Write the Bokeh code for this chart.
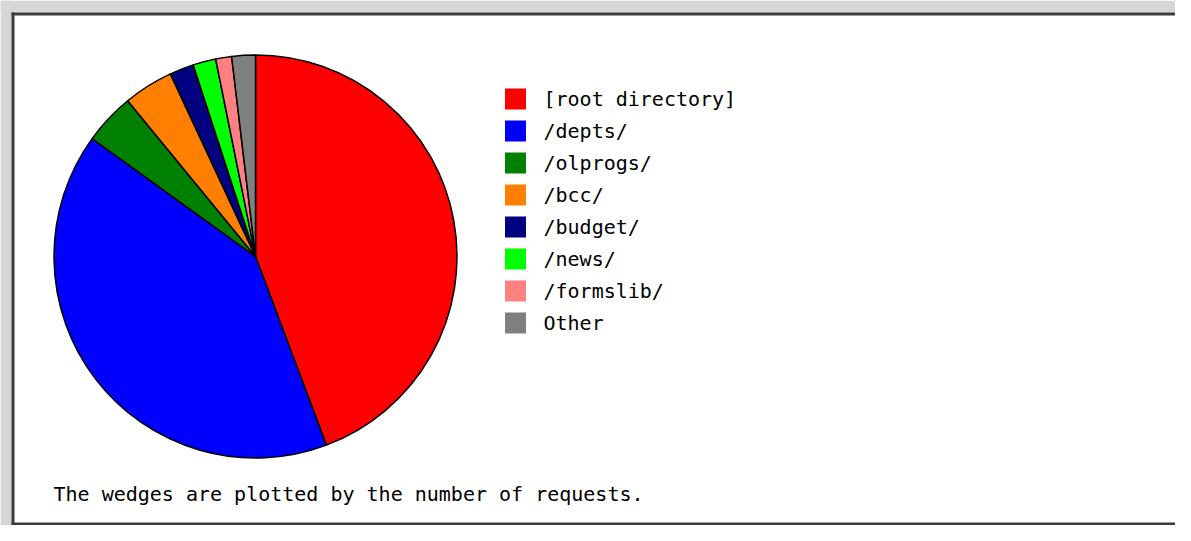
import math
from bokeh.plotting import figure
from bokeh.models import Range1d, ColumnDataSource
from bokeh.core.properties import value
from bokeh.embed import file_html
from bokeh.resources import INLINE

# ---- data ----
categories = ["[root directory]", "/depts/", "/olprogs/", "/bcc/", "/budget/",
              "/news/", "/formslib/", "Other"]
requests = [44.28, 40.67, 4.11, 4.00, 1.94, 1.83, 1.28, 1.89]
colors = ["#ff0000", "#0000ff", "#008000", "#ff8000", "#000080",
          "#00ff00", "#ff8080", "#808080"]
caption = "The wedges are plotted by the number of requests."

FONT = "DejaVu Sans Mono"

# figure shows reference-pixel region x 0..1175, y 0..525 (y stored negated)
p = figure(width=1175, height=525, output_backend="svg", toolbar_location=None,
           x_range=Range1d(0, 1175), y_range=Range1d(-525, 0),
           min_border=0, outline_line_color=None)
p.axis.visible = False
p.grid.visible = False
p.background_fill_color = "white"
p.border_fill_color = "white"

# frame decoration (bevelled border)
p.quad(left=[0], right=[1191], top=[0], bottom=[-12], fill_color="#d6d6d6", line_color=None)
p.quad(left=[0], right=[11], top=[0], bottom=[-541], fill_color="#d6d6d6", line_color=None)
p.quad(left=[11], right=[1191], top=[-12], bottom=[-15], fill_color="#3c3c3c", line_color=None)
p.quad(left=[11], right=[14], top=[-12], bottom=[-525], fill_color="#3c3c3c", line_color=None)
p.quad(left=[11], right=[1191], top=[-522], bottom=[-525], fill_color="#3c3c3c", line_color=None)

# pie
total = sum(requests)
starts, ends = [], []
cum = 0.0
for v in requests:
    starts.append(math.pi / 2 - 2 * math.pi * cum / total)
    cum += v
    ends.append(math.pi / 2 - 2 * math.pi * cum / total)
src = ColumnDataSource(dict(cat=categories, v=requests, c=colors, s=starts, e=ends,
                            x=[255] * len(requests), y=[-256] * len(requests)))
p.wedge(x="x", y="y", radius=201.5, start_angle="s", end_angle="e", direction="clock",
        fill_color="c", line_color="black", line_width=1.5, source=src)

# legend
ly = [-(98.5 + 32 * i) for i in range(len(categories))]
lsrc = ColumnDataSource(dict(cat=categories, c=colors, y=ly,
                             x=[515] * len(categories), tx=[543] * len(categories)))
p.rect(x="x", y="y", width=21, height=21, fill_color="c", line_color=None, source=lsrc)
p.text(x="tx", y="y", text="cat", text_font=value(FONT), text_font_size="20px",
       text_baseline="middle", text_color="black", source=lsrc)

# caption
p.text(x=[53], y=[-493], text=[caption], text_font=value(FONT), text_font_size="20px",
       text_baseline="middle", text_color="black")

open("out.html", "w").write(file_html(p, INLINE))
